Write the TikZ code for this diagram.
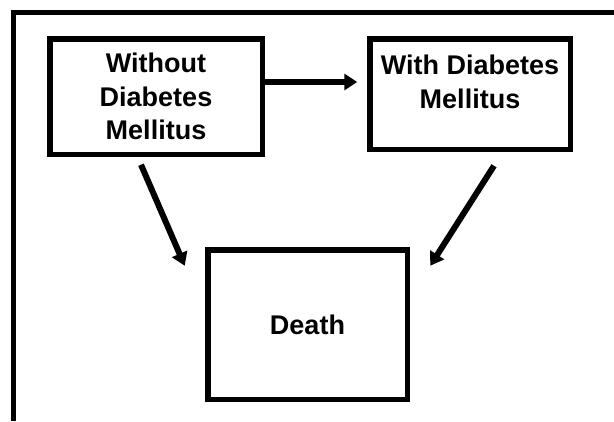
\documentclass[tikz,border=0pt]{standalone}
\usepackage{fontspec}
\setmainfont{Liberation Sans}
\usetikzlibrary{arrows.meta}
\begin{document}
\begin{tikzpicture}[x=1pt,y=-1pt,
  box/.style={draw, line width=5.5pt, rectangle, inner sep=0pt, align=center,
    font=\fontsize{27}{33.5}\selectfont\bfseries},
  txt/.style={inner sep=0pt, align=center, font=\fontsize{27}{33.5}\selectfont\bfseries},
  arr/.style={line width=6pt, -{Triangle[length=13pt,width=16pt]}},
  frame/.style={line width=5pt}]
\useasboundingbox (0,0) rectangle (614,421);
\coordinate (fb) at (13.5,421);
\coordinate (fc) at (13.5,12.5);
\coordinate (fr) at (614,12.5);
\draw[frame] (fb) -- (fc) -- (fr);
\node[box, minimum width=212.5pt, minimum height=115.5pt] (b1) at (156,96.5) {Without\\Diabetes\\Mellitus};
\node[box, minimum width=200.5pt, minimum height=110.5pt] (b2) at (470,94) {};
\node[txt] (t2) at (470,82) {With Diabetes\\Mellitus};
\node[box, minimum width=199.5pt, minimum height=149.5pt] (d) at (307.5,324.5) {Death};
\draw[arr] ([yshift=14.5pt]b1.east) -- ([yshift=12pt,xshift=-9.75pt]b2.west);
\draw[arr] ([xshift=-15pt,yshift=-7.75pt]b1.south) -- ([xshift=-20.25pt,yshift=-18.75pt]d.north west);
\draw[arr] ([xshift=24pt,yshift=-13.75pt]b2.south) -- ([xshift=20.25pt,yshift=-18.75pt]d.north east);
\end{tikzpicture}
\end{document}
